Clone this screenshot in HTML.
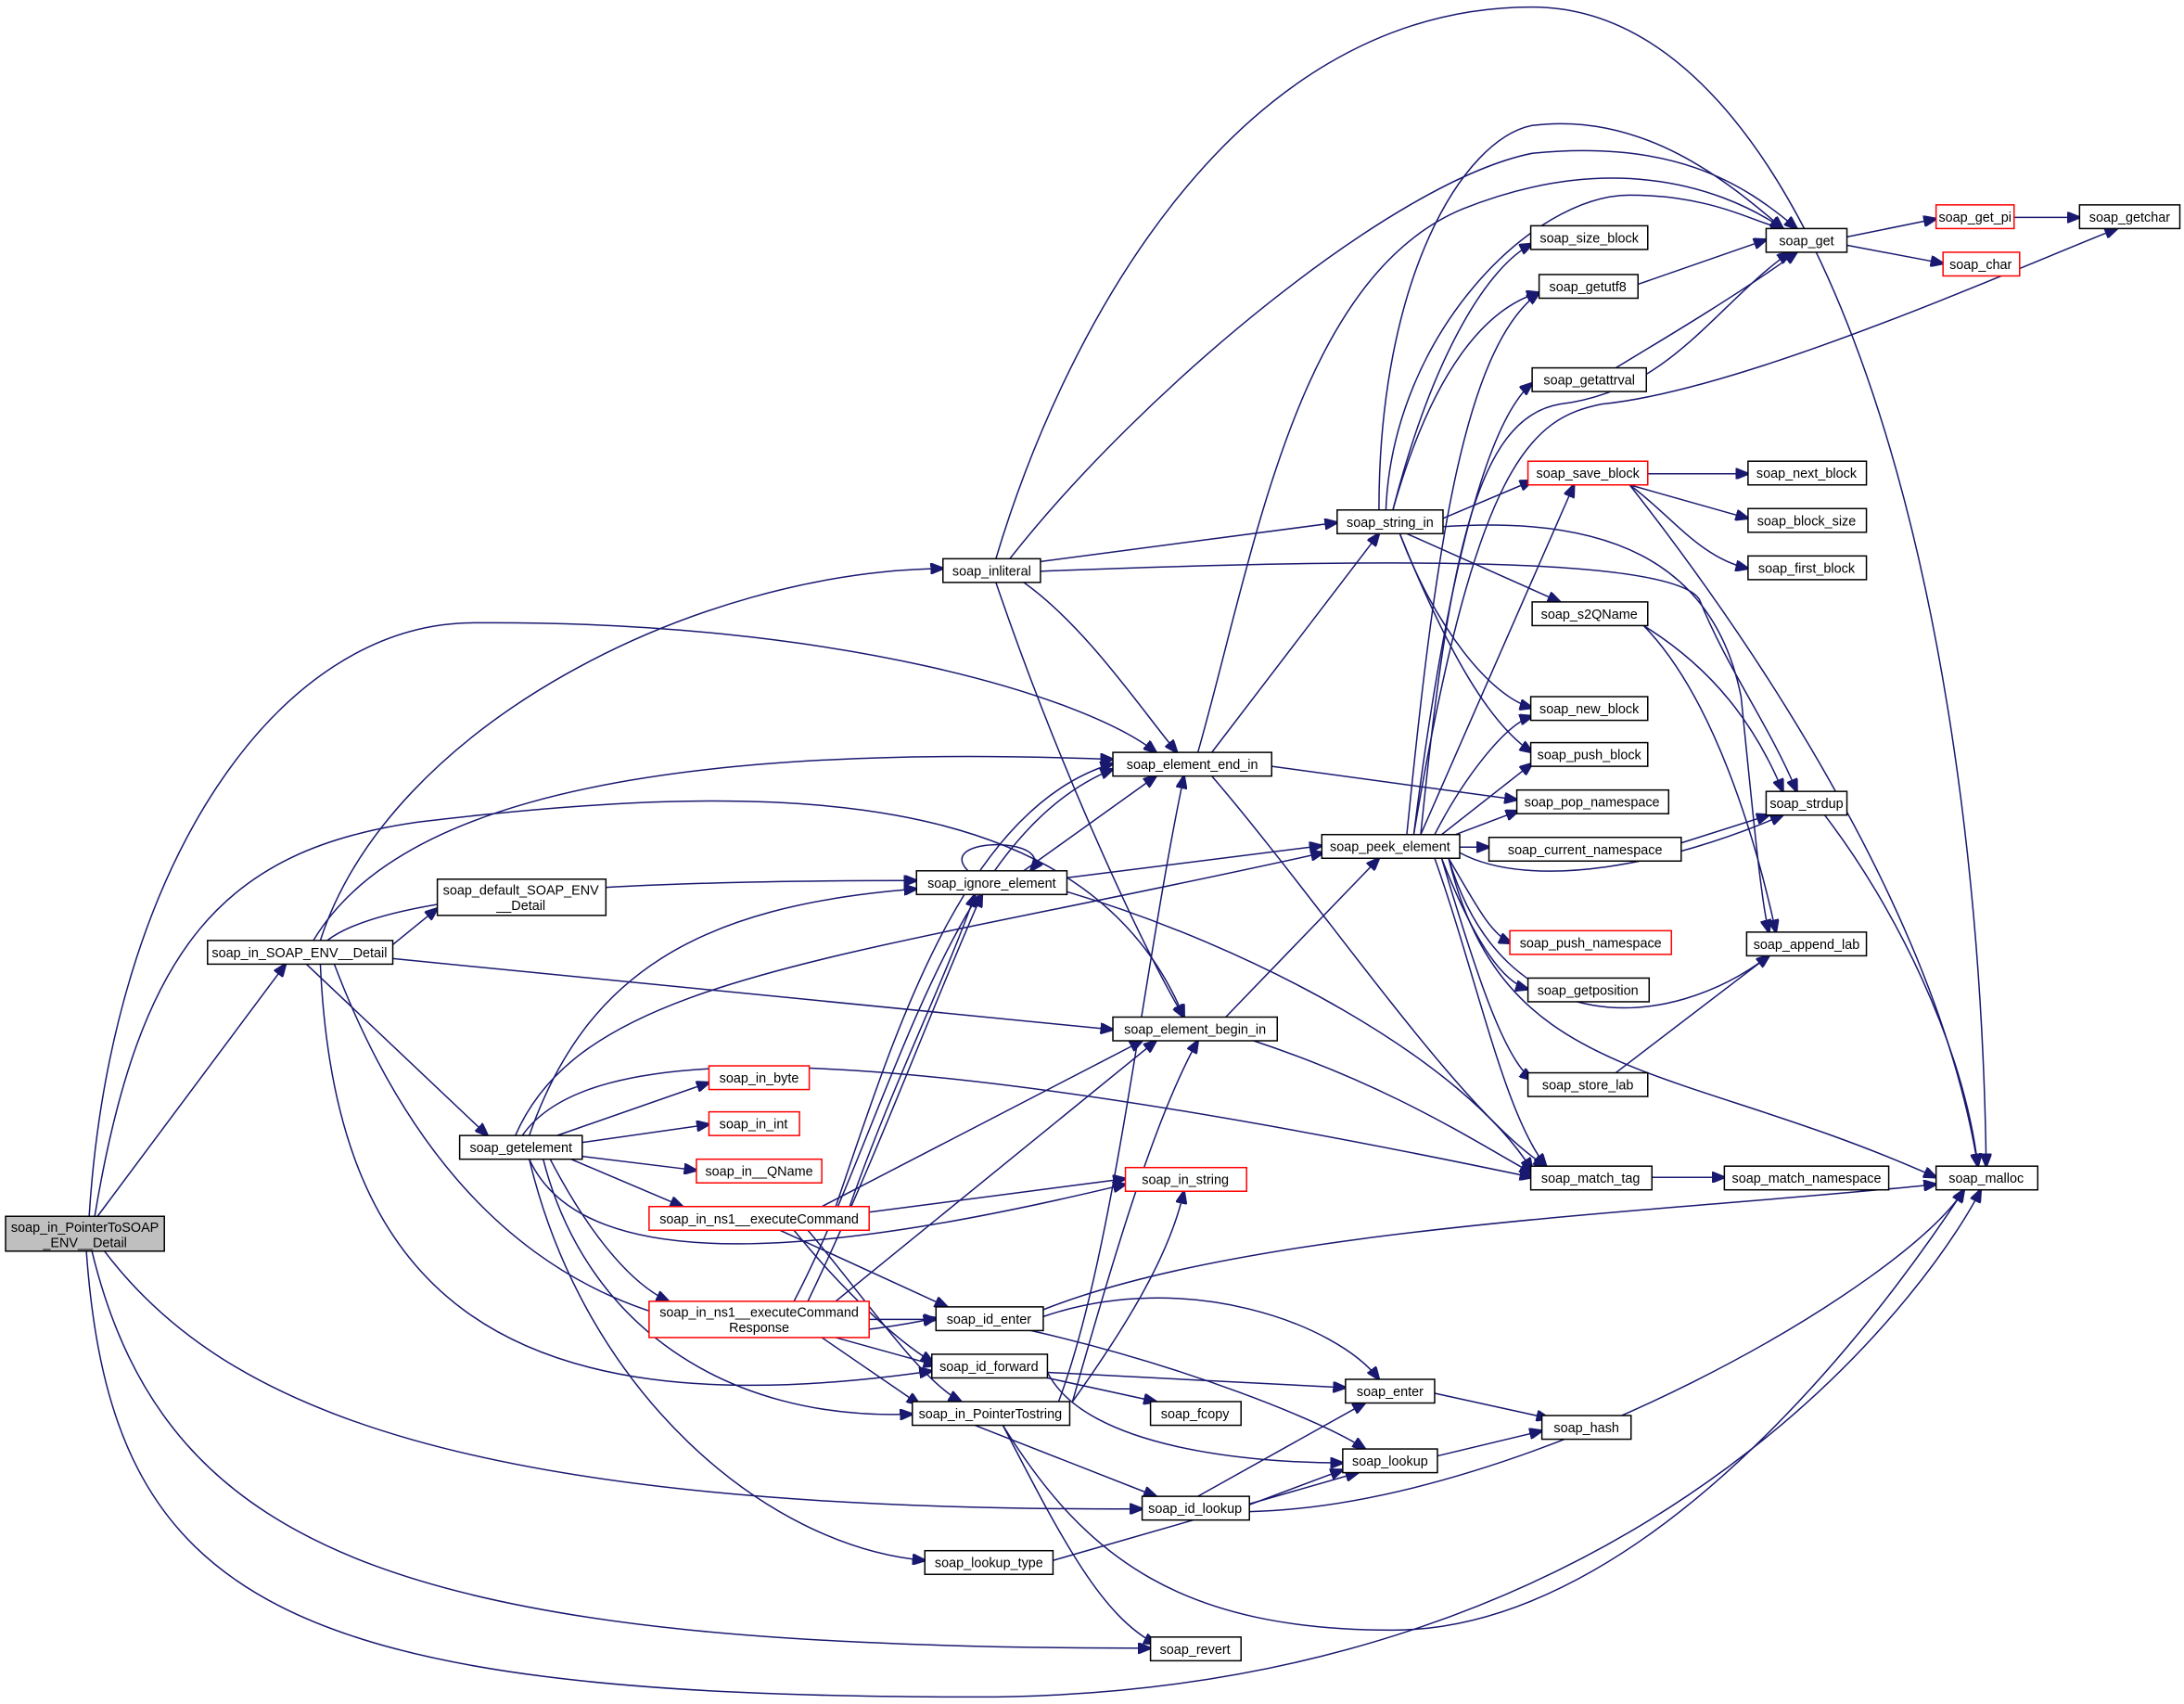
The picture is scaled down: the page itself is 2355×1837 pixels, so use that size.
<!DOCTYPE html>
<html><head><meta charset="utf-8"><style>
html,body{margin:0;padding:0;background:#fff;}
svg{display:block}
text{font-family:"Liberation Sans",sans-serif;font-size:9.6px;fill:#000;text-anchor:middle}
.n{fill:#fff;stroke:#000;stroke-width:1}
.r{fill:#fff;stroke:#ff0000;stroke-width:1}
.e{fill:none;stroke:#191970;stroke-width:1}
</style></head><body>
<svg width="2355" height="1837" viewBox="0 0 1568 1223" xmlns="http://www.w3.org/2000/svg">
<defs><marker id="a" markerWidth="10" markerHeight="8" refX="9" refY="4" orient="auto" markerUnits="userSpaceOnUse"><path d="M0,0 L10,4 L0,8 z" fill="#191970" stroke="#191970"/></marker></defs>
<g class="e" marker-end="url(#a)">
<!-- root -->
<path d="M70,873 L205,692"/>
<path d="M64,873 C80,620 200,447 340,447 C600,445 780,500 830,540"/>
<path d="M68,873 C100,680 160,610 300,590 C550,560 780,560 850,730"/>
<path d="M75,898 C160,1010 330,1085 820,1083"/>
<path d="M66,898 C120,1120 300,1183 826,1183"/>
<path d="M62,898 C80,1150 200,1218 700,1218 C1200,1218 1400,900 1422,854"/>
<!-- in_SOAP_ENV__Detail -->
<path d="M230,675 C280,520 500,410 677,408"/>
<path d="M225,675 C270,600 400,530 799,545"/>
<path d="M235,675 C280,640 450,632 658,632"/>
<path d="M282,678 L314,652"/>
<path d="M220,692 L350,815"/>
<path d="M282,688 L799,739"/>
<path d="M240,692 C300,850 420,1000 672,946"/>
<path d="M230,692 C240,920 350,1030 669,984"/>
<!-- inliteral -->
<path d="M715,401 C760,250 880,5 1100,5 C1300,5 1420,400 1426,837"/>
<path d="M725,401 C820,280 1000,130 1100,110 C1200,100 1250,130 1290,164"/>
<path d="M747,403 L960,375"/>
<path d="M735,418 C780,450 820,510 845,540"/>
<path d="M715,418 C760,550 820,680 850,730"/>
<path d="M747,410 C1000,400 1200,400 1220,430 C1240,480 1270,520 1290,568"/>
<!-- element_end_in -->
<path d="M870,540 L990,383"/>
<path d="M860,540 C900,400 930,200 1050,150 C1150,110 1230,130 1280,164"/>
<path d="M913,550 L1089,574"/>
<path d="M870,557 C950,650 1050,800 1110,837"/>
<!-- ignore_element -->
<path d="M695,625 C670,600 760,600 740,625"/>
<path d="M735,625 L830,557"/>
<path d="M766,630 L949,607"/>
<path d="M766,640 C900,680 1050,760 1100,840"/>
<!-- getelement -->
<path d="M380,815 C420,700 500,650 658,638"/>
<path d="M370,815 C420,700 600,690 950,612"/>
<path d="M375,815 C420,750 600,740 1100,845"/>
<path d="M400,815 L509,777"/>
<path d="M418,820 L509,807"/>
<path d="M418,830 L500,840"/>
<path d="M410,832 L490,866"/>
<path d="M395,832 C420,880 450,920 480,934"/>
<path d="M380,832 C420,920 600,900 808,850"/>
<path d="M390,832 C420,950 520,1020 655,1015"/>
<path d="M380,832 C420,1000 550,1110 664,1120"/>
<!-- executeCommand -->
<path d="M600,866 C640,750 690,580 799,548"/>
<path d="M610,866 C640,780 680,700 700,642"/>
<path d="M590,866 L820,747"/>
<path d="M624,870 L808,846"/>
<path d="M560,883 L680,938"/>
<path d="M570,883 C600,920 640,960 670,978"/>
<path d="M580,883 C620,930 660,990 690,1006"/>
<!-- executeCommandResponse -->
<path d="M570,934 C640,800 680,600 799,552"/>
<path d="M580,934 C630,830 670,720 705,642"/>
<path d="M600,934 L830,747"/>
<path d="M624,947 L672,947"/>
<path d="M600,960 L672,980"/>
<path d="M590,960 L660,1008"/>
<!-- id_enter -->
<path d="M749,940 C900,880 1200,870 1390,850"/>
<path d="M749,945 C850,910 960,950 990,990"/>
<path d="M740,955 C850,980 950,1020 980,1040"/>
<!-- id_forward -->
<path d="M752,985 L966,996"/>
<path d="M752,989 L830,1006"/>
<path d="M752,985 C780,1040 900,1050 964,1050"/>
<!-- in_PointerTostring -->
<path d="M760,1006 C800,900 820,700 850,557"/>
<path d="M770,1006 C800,900 830,800 860,747"/>
<path d="M770,1006 C810,950 840,900 850,855"/>
<path d="M700,1023 L830,1074"/>
<path d="M720,1023 C760,1100 790,1160 830,1180"/>
<path d="M720,1023 C780,1120 850,1170 1000,1170 C1200,1170 1380,900 1410,854"/>
<!-- id_lookup -->
<path d="M860,1074 L980,1007"/>
<path d="M897,1080 L964,1055"/>
<path d="M897,1085 C1100,1080 1370,920 1410,854"/>
<path d="M756,1120 L975,1057"/>
<path d="M1032,1045 L1107,1027"/>
<path d="M1030,1000 L1112,1018"/>
<!-- element_begin_in -->
<path d="M880,730 L990,616"/>
<path d="M900,747 C1000,780 1060,820 1100,842"/>
<!-- string_in -->
<path d="M1000,366 C1030,250 1070,190 1100,175"/>
<path d="M1000,366 C1030,260 1070,220 1105,210"/>
<path d="M990,366 C990,200 1050,100 1100,90 C1180,80 1240,130 1280,164"/>
<path d="M995,366 C1000,240 1100,140 1170,140 C1230,140 1260,160 1280,164"/>
<path d="M1036,372 L1100,345"/>
<path d="M1010,383 L1120,432"/>
<path d="M1005,383 C1030,450 1070,500 1100,508"/>
<path d="M1005,383 C1040,470 1070,520 1100,540"/>
<path d="M1036,378 C1150,370 1230,400 1250,500 C1260,600 1265,650 1270,669"/>
<!-- peek_element -->
<path d="M1010,599 C1030,400 1050,250 1105,210"/>
<path d="M1015,599 C1040,400 1070,300 1100,275"/>
<path d="M1020,599 C1040,400 1060,300 1120,290 C1200,280 1230,220 1285,181"/>
<path d="M1015,599 C1060,330 1100,300 1150,290 C1250,280 1430,200 1520,164"/>
<path d="M1020,599 L1130,348"/>
<path d="M1030,599 C1050,560 1080,520 1100,514"/>
<path d="M1035,599 L1100,548"/>
<path d="M1045,599 L1090,582"/>
<path d="M1048,608 L1069,608"/>
<path d="M1048,612 C1100,640 1200,620 1280,585"/>
<path d="M1040,616 C1060,650 1070,670 1085,677"/>
<path d="M1035,616 C1060,680 1080,705 1097,710"/>
<path d="M1040,616 C1080,750 1200,740 1270,686"/>
<path d="M1035,616 C1060,700 1080,760 1100,775"/>
<path d="M1030,616 C1060,700 1080,800 1110,837"/>
<path d="M1040,616 C1080,780 1200,760 1390,845"/>
<!-- right side -->
<path d="M1326,170 L1390,157"/>
<path d="M1326,176 L1395,189"/>
<path d="M1446,156 L1493,156"/>
<path d="M1176,204 L1268,172"/>
<path d="M1160,264 C1200,240 1250,210 1290,181"/>
<path d="M1183,340 L1255,340"/>
<path d="M1170,348 L1255,372"/>
<path d="M1170,348 C1200,370 1220,400 1255,408"/>
<path d="M1170,348 C1250,450 1390,650 1420,837"/>
<path d="M1180,449 C1230,480 1260,520 1280,568"/>
<path d="M1180,449 C1230,500 1260,600 1275,669"/>
<path d="M1207,605 L1270,585"/>
<path d="M1160,770 L1270,686"/>
<path d="M1186,845 L1238,845"/>
<path d="M1310,585 C1360,650 1410,750 1420,837"/>
</g>
<g>
<rect x="4" y="873" width="114" height="25" fill="#bfbfbf" stroke="#000"/><text x="61" y="884">soap_in_PointerToSOAP</text><text x="61" y="895">_ENV__Detail</text>
<rect class="n" x="149" y="675" width="133" height="17"/><text x="215" y="687">soap_in_SOAP_ENV__Detail</text>
<rect class="n" x="677" y="401" width="70" height="17"/><text x="712" y="413">soap_inliteral</text>
<rect class="n" x="314" y="631" width="121" height="26"/><text x="374" y="642">soap_default_SOAP_ENV</text><text x="374" y="653">__Detail</text>
<rect class="n" x="330" y="815" width="88" height="17"/><text x="374" y="827">soap_getelement</text>
<rect class="r" x="509" y="765" width="72" height="17"/><text x="545" y="777">soap_in_byte</text>
<rect class="r" x="509" y="798" width="65" height="17"/><text x="541" y="810">soap_in_int</text>
<rect class="r" x="500" y="832" width="90" height="17"/><text x="545" y="844">soap_in__QName</text>
<rect class="r" x="466" y="866" width="158" height="17"/><text x="545" y="878">soap_in_ns1__executeCommand</text>
<rect class="r" x="466" y="934" width="158" height="26"/><text x="545" y="945">soap_in_ns1__executeCommand</text><text x="545" y="956">Response</text>
<rect class="n" x="658" y="625" width="108" height="17"/><text x="712" y="637">soap_ignore_element</text>
<rect class="n" x="799" y="540" width="114" height="17"/><text x="856" y="552">soap_element_end_in</text>
<rect class="n" x="799" y="730" width="118" height="17"/><text x="858" y="742">soap_element_begin_in</text>
<rect class="r" x="808" y="838" width="87" height="17"/><text x="851" y="850">soap_in_string</text>
<rect class="n" x="672" y="938" width="77" height="17"/><text x="710" y="950">soap_id_enter</text>
<rect class="n" x="669" y="972" width="83" height="17"/><text x="710" y="984">soap_id_forward</text>
<rect class="n" x="655" y="1006" width="113" height="17"/><text x="711" y="1018">soap_in_PointerTostring</text>
<rect class="n" x="820" y="1074" width="77" height="17"/><text x="858" y="1086">soap_id_lookup</text>
<rect class="n" x="664" y="1113" width="92" height="17"/><text x="710" y="1125">soap_lookup_type</text>
<rect class="n" x="826" y="1175" width="65" height="17"/><text x="858" y="1187">soap_revert</text>
<rect class="n" x="826" y="1006" width="65" height="17"/><text x="858" y="1018">soap_fcopy</text>
<rect class="n" x="966" y="990" width="64" height="17"/><text x="998" y="1002">soap_enter</text>
<rect class="n" x="964" y="1040" width="68" height="17"/><text x="998" y="1052">soap_lookup</text>
<rect class="n" x="1107" y="1016" width="64" height="17"/><text x="1139" y="1028">soap_hash</text>
<rect class="n" x="960" y="366" width="76" height="17"/><text x="998" y="378">soap_string_in</text>
<rect class="n" x="949" y="599" width="99" height="17"/><text x="998" y="611">soap_peek_element</text>
<rect class="n" x="1099" y="162" width="84" height="17"/><text x="1141" y="174">soap_size_block</text>
<rect class="n" x="1105" y="197" width="71" height="17"/><text x="1140" y="209">soap_getutf8</text>
<rect class="n" x="1100" y="264" width="82" height="17"/><text x="1141" y="276">soap_getattrval</text>
<rect class="r" x="1097" y="331" width="86" height="17"/><text x="1140" y="343">soap_save_block</text>
<rect class="n" x="1100" y="432" width="83" height="17"/><text x="1141" y="444">soap_s2QName</text>
<rect class="n" x="1099" y="500" width="84" height="17"/><text x="1141" y="512">soap_new_block</text>
<rect class="n" x="1099" y="533" width="84" height="17"/><text x="1141" y="545">soap_push_block</text>
<rect class="n" x="1089" y="567" width="109" height="17"/><text x="1143" y="579">soap_pop_namespace</text>
<rect class="n" x="1069" y="601" width="138" height="17"/><text x="1138" y="613">soap_current_namespace</text>
<rect class="r" x="1084" y="668" width="116" height="17"/><text x="1142" y="680">soap_push_namespace</text>
<rect class="n" x="1097" y="702" width="87" height="17"/><text x="1140" y="714">soap_getposition</text>
<rect class="n" x="1097" y="770" width="86" height="17"/><text x="1140" y="782">soap_store_lab</text>
<rect class="n" x="1099" y="837" width="87" height="17"/><text x="1142" y="849">soap_match_tag</text>
<rect class="n" x="1268" y="164" width="58" height="17"/><text x="1297" y="176">soap_get</text>
<rect class="r" x="1390" y="147" width="56" height="17"/><text x="1418" y="159">soap_get_pi</text>
<rect class="r" x="1395" y="181" width="55" height="17"/><text x="1422" y="193">soap_char</text>
<rect class="n" x="1493" y="147" width="72" height="17"/><text x="1529" y="159">soap_getchar</text>
<rect class="n" x="1255" y="331" width="85" height="17"/><text x="1297" y="343">soap_next_block</text>
<rect class="n" x="1255" y="365" width="85" height="17"/><text x="1297" y="377">soap_block_size</text>
<rect class="n" x="1255" y="399" width="85" height="17"/><text x="1297" y="411">soap_first_block</text>
<rect class="n" x="1268" y="568" width="58" height="17"/><text x="1297" y="580">soap_strdup</text>
<rect class="n" x="1254" y="669" width="86" height="17"/><text x="1297" y="681">soap_append_lab</text>
<rect class="n" x="1238" y="837" width="118" height="17"/><text x="1297" y="849">soap_match_namespace</text>
<rect class="n" x="1390" y="837" width="73" height="17"/><text x="1426" y="849">soap_malloc</text>
</g>
</svg>
</body></html>
